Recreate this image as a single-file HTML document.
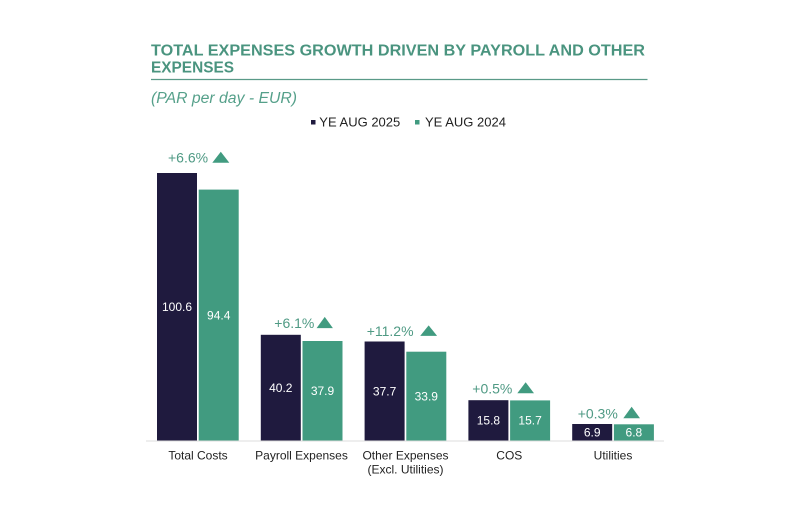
<!DOCTYPE html>
<html>
<head>
<meta charset="utf-8">
<style>
  html, body { margin: 0; padding: 0; background: #ffffff; }
  svg { display: block; }
  text { font-family: "Liberation Sans", Arial, sans-serif; }
</style>
</head>
<body>
<svg width="792" height="524" viewBox="0 0 792 524" xmlns="http://www.w3.org/2000/svg">
  <rect width="792" height="524" fill="#ffffff"/>

  <!-- Title -->
  <text x="151" y="55.5" font-size="15.5" font-weight="bold" fill="#4a947f" textLength="494" lengthAdjust="spacingAndGlyphs">TOTAL EXPENSES GROWTH DRIVEN BY PAYROLL AND OTHER</text>
  <text x="151" y="72.5" font-size="15.5" font-weight="bold" fill="#4a947f" textLength="83" lengthAdjust="spacingAndGlyphs">EXPENSES</text>
  <line x1="151" y1="79.5" x2="647.5" y2="79.5" stroke="#5a9a88" stroke-width="1.2"/>
  <text x="151" y="103" font-size="15.5" font-style="italic" fill="#55a08a" textLength="146" lengthAdjust="spacingAndGlyphs">(PAR per day - EUR)</text>

  <!-- Legend -->
  <rect x="311" y="120" width="4.5" height="4.5" fill="#1f1a3e"/>
  <text x="319.3" y="126.7" font-size="13" fill="#222222">YE AUG 2025</text>
  <rect x="415" y="120" width="4.5" height="4.5" fill="#419b80"/>
  <text x="425" y="126.7" font-size="13" fill="#222222">YE AUG 2024</text>

  <!-- Bars -->
  <g>
    <!-- Total Costs -->
    <rect x="157" y="173.0" width="40" height="268.0" fill="#1f1a3e"/>
    <rect x="198.7" y="189.6" width="40" height="251.4" fill="#419b80"/>
    <!-- Payroll -->
    <rect x="260.8" y="334.8" width="40" height="106.2" fill="#1f1a3e"/>
    <rect x="302.5" y="341.0" width="40" height="100.0" fill="#419b80"/>
    <!-- Other -->
    <rect x="364.6" y="341.5" width="40" height="99.5" fill="#1f1a3e"/>
    <rect x="406.3" y="351.7" width="40" height="89.3" fill="#419b80"/>
    <!-- COS -->
    <rect x="468.4" y="400.2" width="40" height="40.8" fill="#1f1a3e"/>
    <rect x="510.1" y="400.4" width="40" height="40.6" fill="#419b80"/>
    <!-- Utilities -->
    <rect x="572.2" y="424.0" width="40" height="17.0" fill="#1f1a3e"/>
    <rect x="613.9" y="424.3" width="40" height="16.7" fill="#419b80"/>
  </g>

  <!-- Baseline -->
  <line x1="146" y1="441" x2="664" y2="441" stroke="#dcdcdc" stroke-width="1"/>

  <!-- Value labels -->
  <g font-size="12" fill="#ffffff" text-anchor="middle">
    <text x="177" y="311">100.6</text>
    <text x="218.7" y="319.3">94.4</text>
    <text x="280.8" y="391.9">40.2</text>
    <text x="322.5" y="395">37.9</text>
    <text x="384.6" y="395.3">37.7</text>
    <text x="426.3" y="400.4">33.9</text>
    <text x="488.4" y="424.6">15.8</text>
    <text x="530.1" y="424.7">15.7</text>
    <text x="592.2" y="436.5">6.9</text>
    <text x="633.9" y="436.7">6.8</text>
  </g>

  <!-- Growth labels -->
  <g font-size="14" fill="#4f9a84">
    <text x="168" y="162.7">+6.6%</text>
    <text x="274.3" y="328">+6.1%</text>
    <text x="366.7" y="335.8">+11.2%</text>
    <text x="472.3" y="393.3">+0.5%</text>
    <text x="577.7" y="418.3">+0.3%</text>
  </g>
  <g fill="#419b80">
    <polygon points="212.3,162.7 229.3,162.7 220.8,151.7"/>
    <polygon points="316.6,328.1 332.9,328.1 324.75,316.9"/>
    <polygon points="420.2,335.9 437.1,335.9 428.65,325.4"/>
    <polygon points="517.3,393.3 534,393.3 525.65,382.3"/>
    <polygon points="623.3,418.3 640,418.3 631.65,406.7"/>
  </g>

  <!-- Category labels -->
  <g font-size="12" fill="#222222" text-anchor="middle">
    <text x="198" y="459.5">Total Costs</text>
    <text x="301.5" y="459.5">Payroll Expenses</text>
    <text x="405.5" y="459.5">Other Expenses</text>
    <text x="405.5" y="473.5">(Excl. Utilities)</text>
    <text x="509.3" y="459.5">COS</text>
    <text x="613" y="459.5">Utilities</text>
  </g>
</svg>
</body>
</html>
